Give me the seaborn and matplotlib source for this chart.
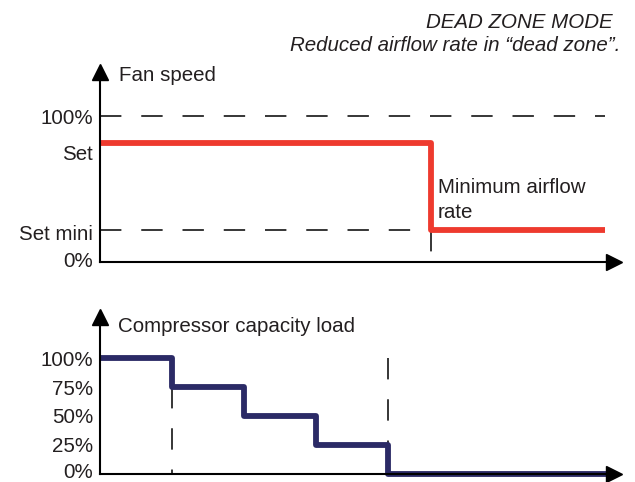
import matplotlib
matplotlib.use('Agg')
import matplotlib.pyplot as plt
import seaborn as sns

# Fan speed (top panel), step positions in time units
fan_x = [0, 4.6, 7.01]
fan_y = [82, 22.2, 22.2]
fan_tick_pos = [1.7, 20.3, 74.9, 100]
fan_tick_labels = ['0%', 'Set mini', 'Set', '100%']

# Compressor capacity load (bottom panel)
comp_x = [0, 1, 2, 3, 4, 7.03]
comp_y = [100, 75, 50, 25, 0, 0]
comp_ticks = [2.2, 25, 50, 75, 100]
comp_tick_labels = ['0%', '25%', '50%', '75%', '100%']

RED = '#ee3a2e'
NAVY = '#2b2a66'
TXT = '#231f20'
FS = 14.8

sns.set_style('white')
plt.rcParams['font.family'] = ['Liberation Sans', 'DejaVu Sans']

fig = plt.figure(figsize=(6.35, 4.82), dpi=100)

def setup_axis(ax, ymax):
    for s in ['top', 'right']:
        ax.spines[s].set_visible(False)
    for s in ['left', 'bottom']:
        ax.spines[s].set_color('black')
        ax.spines[s].set_linewidth(1.5)
    ax.set_xlim(0, 7.139)
    ax.set_ylim(0, ymax)
    ax.set_xticks([])
    ax.tick_params(axis='y', length=0, pad=5, labelsize=FS, labelcolor=TXT)
    ax.plot(1, 0, '>k', ms=11, transform=ax.transAxes, clip_on=False)
    ax.plot(0, 1, '^k', ms=11, transform=ax.transAxes, clip_on=False)
    ax.set_xlabel('')
    ax.set_ylabel('')

dash = dict(color='black', lw=1.1, dashes=(14, 13), clip_on=False)

# top panel
ax1 = fig.add_axes([0.15748, 0.4564, 0.8094, 0.3932])
ax1.plot([0, 7.01], [100, 100], **dash)
ax1.plot([0, 4.6], [22.2, 22.2], **dash)
ax1.plot([4.6, 4.6], [22.2, 7], **dash)
sns.lineplot(x=fan_x, y=fan_y, drawstyle='steps-post', color=RED, lw=4.2,
             ax=ax1, clip_on=False, solid_capstyle='butt')
setup_axis(ax1, 130.2)
ax1.set_yticks(fan_tick_pos)
ax1.set_yticklabels(fan_tick_labels)
ax1.text(0.264, 124.4, 'Fan speed', fontsize=FS, color=TXT, va='baseline')
ax1.text(4.69, 47.4, 'Minimum airflow', fontsize=FS, color=TXT, va='baseline')
ax1.text(4.69, 30.2, 'rate', fontsize=FS, color=TXT, va='baseline')

# bottom panel
ax2 = fig.add_axes([0.15748, 0.01763, 0.8094, 0.3237])
ax2.plot([1, 1], [75, 0], **dash)
ax2.plot([4, 4], [100, 25], **dash)
sns.lineplot(x=comp_x, y=comp_y, drawstyle='steps-post', color=NAVY, lw=4.2,
             ax=ax2, clip_on=False, solid_capstyle='butt')
setup_axis(ax2, 135.4)
ax2.set_yticks(comp_ticks)
ax2.set_yticklabels(comp_tick_labels)
ax2.text(0.25, 122.8, 'Compressor capacity load', fontsize=FS, color=TXT,
         va='baseline')

fig.text(0.9654, 0.9419, 'DEAD ZONE MODE', ha='right', va='baseline',
         style='italic', fontsize=FS, color=TXT)
fig.text(0.9764, 0.8942, 'Reduced airflow rate in \u201cdead zone\u201d.', ha='right',
         va='baseline', style='italic', fontsize=FS, color=TXT)

fig.savefig('out.png', dpi=100)
